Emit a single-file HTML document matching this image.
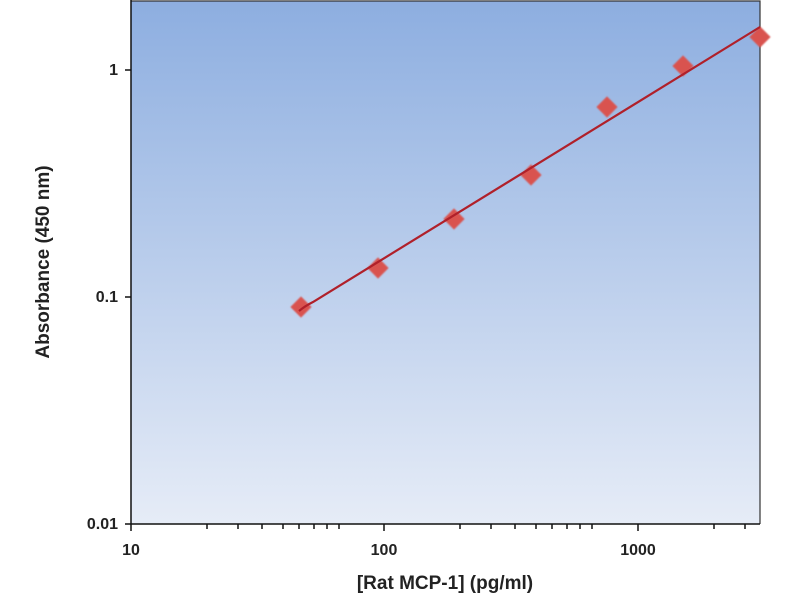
<!DOCTYPE html>
<html><head><meta charset="utf-8"><style>
body{margin:0;background:#fff;width:800px;height:600px;overflow:hidden}
text{font-family:"Liberation Sans",sans-serif;font-weight:bold;fill:#222}
</style></head><body>
<svg width="800" height="600" xmlns="http://www.w3.org/2000/svg">
<defs>
<linearGradient id="g" x1="0" y1="0" x2="0" y2="1">
<stop offset="0" stop-color="#8daee0"/>
<stop offset="1" stop-color="#e6ecf7"/>
</linearGradient>
<filter id="b"><feGaussianBlur stdDeviation="0.8"/></filter>
</defs>
<rect x="131" y="1" width="629" height="523" fill="url(#g)"/>
<path d="M131,1 H760 V524" fill="none" stroke="#333" stroke-width="1.2"/>
<line x1="131" y1="0" x2="131" y2="524" stroke="#111" stroke-width="1.5"/>
<line x1="125" y1="524" x2="760" y2="524" stroke="#111" stroke-width="1.5"/>
<g stroke="#111" stroke-width="1.5">
<line x1="125" y1="297" x2="131" y2="297"/>
<line x1="125" y1="70" x2="131" y2="70"/>
<line x1="131" y1="524" x2="131" y2="531"/>
<line x1="384" y1="524" x2="384" y2="531"/>
<line x1="638" y1="524" x2="638" y2="531"/>
<line x1="207" y1="524" x2="207" y2="529"/><line x1="238" y1="524" x2="238" y2="529"/><line x1="262" y1="524" x2="262" y2="529"/><line x1="283" y1="524" x2="283" y2="529"/><line x1="299" y1="524" x2="299" y2="529"/><line x1="314" y1="524" x2="314" y2="529"/><line x1="327" y1="524" x2="327" y2="529"/><line x1="339" y1="524" x2="339" y2="529"/>
<line x1="460" y1="524" x2="460" y2="529"/><line x1="491" y1="524" x2="491" y2="529"/><line x1="515" y1="524" x2="515" y2="529"/><line x1="536" y1="524" x2="536" y2="529"/><line x1="552" y1="524" x2="552" y2="529"/><line x1="567" y1="524" x2="567" y2="529"/><line x1="580" y1="524" x2="580" y2="529"/><line x1="592" y1="524" x2="592" y2="529"/>
<line x1="714" y1="524" x2="714" y2="529"/><line x1="745" y1="524" x2="745" y2="529"/>
</g>
<text x="118" y="529" font-size="16" text-anchor="end">0.01</text>
<text x="118" y="302" font-size="16" text-anchor="end">0.1</text>
<text x="118" y="75" font-size="16" text-anchor="end">1</text>
<text x="131" y="555" font-size="16" text-anchor="middle">10</text>
<text x="384" y="555" font-size="16" text-anchor="middle">100</text>
<text x="638" y="555" font-size="16" text-anchor="middle">1000</text>
<text x="445" y="589" font-size="19" text-anchor="middle">[Rat MCP-1] (pg/ml)</text>
<text x="0" y="0" font-size="19" text-anchor="middle" transform="translate(49,262) rotate(-90)">Absorbance (450 nm)</text>
<g fill="#d9534f" filter="url(#b)">
<rect x="-7.5" y="-7.5" width="15" height="15" transform="translate(301,307) rotate(45)"/>
<rect x="-7.5" y="-7.5" width="15" height="15" transform="translate(378,268) rotate(45)"/>
<rect x="-7.5" y="-7.5" width="15" height="15" transform="translate(454,219) rotate(45)"/>
<rect x="-7.5" y="-7.5" width="15" height="15" transform="translate(531,175) rotate(45)"/>
<rect x="-7.5" y="-7.5" width="15" height="15" transform="translate(607,107) rotate(45)"/>
<rect x="-7.5" y="-7.5" width="15" height="15" transform="translate(683,66) rotate(45)"/>
<rect x="-7.5" y="-7.5" width="15" height="15" transform="translate(760,37) rotate(45)"/>
</g>
<path d="M299,311 Q305,306 313,302 L760,27" fill="none" stroke="#b0202a" stroke-width="2.2"/>
</svg>
</body></html>
